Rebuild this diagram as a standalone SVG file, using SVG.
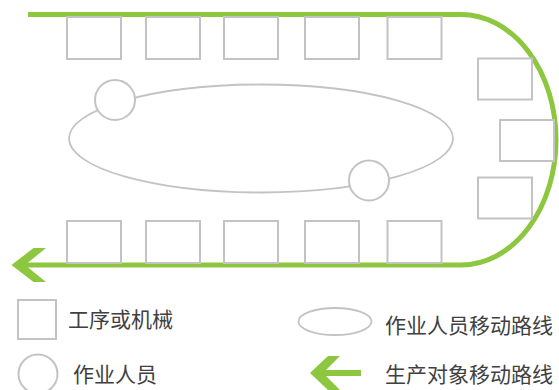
<svg xmlns="http://www.w3.org/2000/svg" width="559" height="390" viewBox="0 0 559 390">
<style>
.box{fill:#fff;stroke:#c3c3c3;stroke-width:2}
.pers{fill:#fff;stroke:#c3c3c3;stroke-width:2}
.route{fill:none;stroke:#c3c3c3;stroke-width:1.8}
.flow{fill:none;stroke:#8dc63f;stroke-width:5}
.head{fill:#8dc63f}
.lbl{font-family:"Noto Sans CJK SC","Noto Sans",sans-serif;font-size:21px;fill:#404040}
</style>
<rect width="559" height="390" fill="#fff"/>
<g id="connectors">
<path class="flow" d="M28,14.5 H461 A95,125.25 0 0 1 461,265 H24"/>
<polygon class="head" points="11.5,265 33.5,248 46,248 25,265 46,282 33.5,282"/>
</g>
<g id="worker-route"><ellipse class="route" cx="261" cy="138.5" rx="192" ry="54"/></g>
<g id="m1"><rect class="box" x="67" y="17" width="54" height="42"/></g>
<g id="m2"><rect class="box" x="146" y="17" width="54" height="42"/></g>
<g id="m3"><rect class="box" x="224" y="17" width="54" height="42"/></g>
<g id="m4"><rect class="box" x="305" y="17" width="54" height="42"/></g>
<g id="m5"><rect class="box" x="387.5" y="17" width="54" height="42"/></g>
<g id="m6"><rect class="box" x="478" y="58.5" width="54" height="41"/></g>
<g id="m7"><rect class="box" x="500" y="120" width="54" height="41"/></g>
<g id="m8"><rect class="box" x="478" y="177.5" width="54" height="41"/></g>
<g id="m9"><rect class="box" x="67" y="221" width="54" height="42"/></g>
<g id="m10"><rect class="box" x="146" y="221" width="54" height="42"/></g>
<g id="m11"><rect class="box" x="224" y="221" width="54" height="42"/></g>
<g id="m12"><rect class="box" x="305" y="221" width="54" height="42"/></g>
<g id="m13"><rect class="box" x="387.5" y="221" width="54" height="42"/></g>
<g id="w1"><circle class="pers" cx="115" cy="100" r="20"/></g>
<g id="w2"><circle class="pers" cx="369" cy="180.5" r="20"/></g>
<g id="legend-machine"><rect class="box" x="18" y="300" width="38" height="39"/><text class="lbl" x="68" y="327">工序或机械</text></g>
<g id="legend-worker"><circle class="pers" cx="38" cy="374" r="19.5"/><text class="lbl" x="73" y="382">作业人员</text></g>
<g id="legend-route"><ellipse class="route" cx="335" cy="321.5" rx="36.5" ry="13.5"/><text class="lbl" x="385" y="333">作业人员移动路线</text></g>
<g id="legend-flow"><line x1="322" y1="373" x2="361" y2="373" stroke="#8dc63f" stroke-width="6"/><polygon class="head" points="310,373 328,356 340,356 323,373 340,390 328,390"/><text class="lbl" x="385" y="382">生产对象移动路线</text></g>
</svg>
